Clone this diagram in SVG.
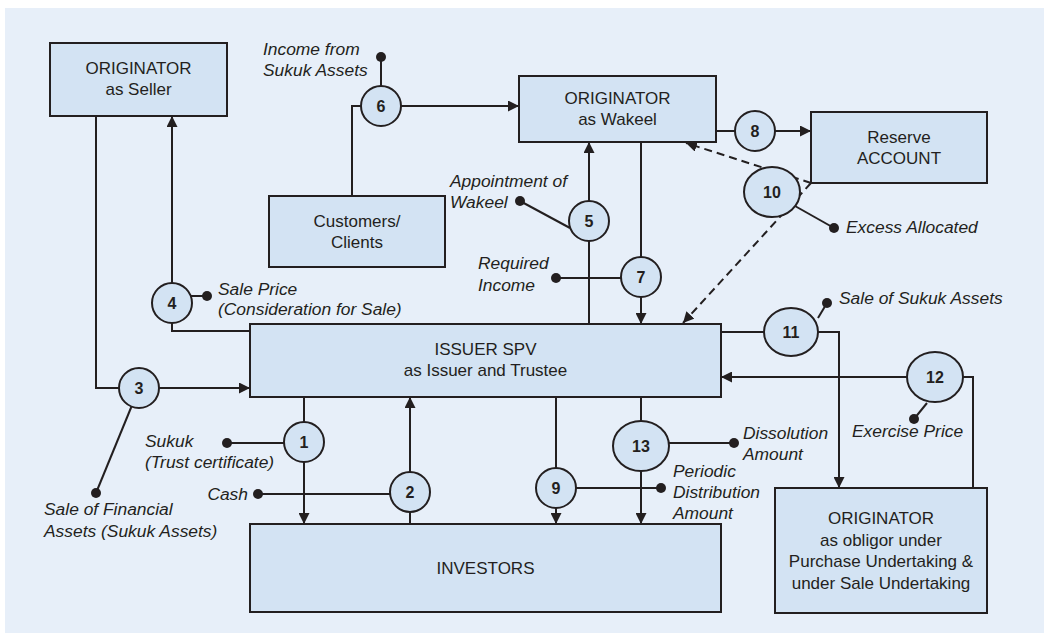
<svg xmlns="http://www.w3.org/2000/svg" width="1044" height="633" viewBox="0 0 1044 633">
  <style>
    .box { fill: #d3e3f3; stroke: #231f20; stroke-width: 2; }
    .step { fill: #d3e3f3; stroke: #231f20; stroke-width: 2; }
    .line { fill: none; stroke: #231f20; stroke-width: 2; }
    .dash { fill: none; stroke: #231f20; stroke-width: 2; stroke-dasharray: 8 5; }
    .dot { fill: #231f20; }
    .t { font-family: "Liberation Sans", Arial, sans-serif; font-size: 17px; fill: #231f20; text-anchor: middle; }
    .lbl { font-family: "Liberation Sans", Arial, sans-serif; font-size: 17.4px; font-style: italic; fill: #231f20; }
    .num { font-family: "Liberation Sans", Arial, sans-serif; font-size: 16px; font-weight: bold; fill: #231f20; text-anchor: middle; }
  </style>
  <defs>
    <marker id="arrow" viewBox="0 0 10 10" refX="10" refY="5" markerWidth="11" markerHeight="11" markerUnits="userSpaceOnUse" orient="auto">
      <path d="M0,0 L10,5 L0,10 z" fill="#231f20"/>
    </marker>
  </defs>

  <rect x="5" y="8" width="1039" height="625" fill="#e7eff9"/>

  <!-- connectors -->
  <g id="connectors">
    <!-- 3: sale of assets, seller to SPV -->
    <path class="line" d="M96,116 V388 H119"/>
    <path class="line" d="M159,388 H250" marker-end="url(#arrow)"/>
    <line class="line" x1="131.5" y1="406.5" x2="96" y2="493"/>
    <!-- 4: sale price, SPV to seller -->
    <path class="line" d="M250,331 H172 V323"/>
    <path class="line" d="M172,283 V116" marker-end="url(#arrow)"/>
    <line class="line" x1="190.7" y1="296" x2="207" y2="296"/>
    <!-- 6: income from customers to Wakeel -->
    <path class="line" d="M352,196 V106 H361"/>
    <path class="line" d="M401,106 H519" marker-end="url(#arrow)"/>
    <line class="line" x1="381" y1="57" x2="381" y2="86"/>
    <!-- 5: appointment of Wakeel -->
    <path class="line" d="M589,324 V241"/>
    <path class="line" d="M589,201 V142" marker-end="url(#arrow)"/>
    <line class="line" x1="520" y1="201" x2="570" y2="228"/>
    <!-- 7: required income -->
    <path class="line" d="M641,142 V257"/>
    <path class="line" d="M641,297 V324" marker-end="url(#arrow)"/>
    <line class="line" x1="556" y1="278" x2="621" y2="278"/>
    <!-- 8: Wakeel to reserve -->
    <path class="line" d="M716,131 H735"/>
    <path class="line" d="M775,131 H811" marker-end="url(#arrow)"/>
    <!-- 10: excess allocated (dashed) -->
    <line class="dash" x1="811" y1="183" x2="686" y2="143" marker-end="url(#arrow)"/>
    <line class="dash" x1="811" y1="183" x2="683" y2="323" marker-end="url(#arrow)"/>
    <line class="line" x1="795" y1="206" x2="834" y2="228"/>
    <!-- 11: sale of sukuk assets -->
    <path class="line" d="M721,332 H764"/>
    <path class="line" d="M818,332 H839 V488" marker-end="url(#arrow)"/>
    <line class="line" x1="818" y1="318" x2="827" y2="303"/>
    <!-- 12: exercise price -->
    <path class="line" d="M973,488 V377 H963"/>
    <path class="line" d="M907,377 H721" marker-end="url(#arrow)"/>
    <line class="line" x1="927" y1="403" x2="914" y2="419"/>
    <!-- 1: sukuk to investors -->
    <path class="line" d="M304,397 V422"/>
    <path class="line" d="M304,462 V524" marker-end="url(#arrow)"/>
    <line class="line" x1="227" y1="443" x2="284" y2="443"/>
    <!-- 2: cash to SPV -->
    <line class="line" x1="258" y1="494" x2="390" y2="494"/>
    <path class="line" d="M410,524 V512"/>
    <path class="line" d="M410,472 V397" marker-end="url(#arrow)"/>
    <!-- 9: periodic distribution -->
    <path class="line" d="M556,397 V468"/>
    <path class="line" d="M556,508 V524" marker-end="url(#arrow)"/>
    <line class="line" x1="576" y1="488" x2="661" y2="488"/>
    <!-- 13: dissolution amount -->
    <path class="line" d="M641,397 V421"/>
    <path class="line" d="M641,471 V524" marker-end="url(#arrow)"/>
    <line class="line" x1="669" y1="443" x2="734" y2="443"/>
  </g>

  <!-- label dots -->
  <g id="dots">
    <circle class="dot" cx="381" cy="57" r="5"/>
    <circle class="dot" cx="520" cy="201" r="5"/>
    <circle class="dot" cx="556" cy="278" r="5"/>
    <circle class="dot" cx="207" cy="296" r="5"/>
    <circle class="dot" cx="96" cy="493" r="5"/>
    <circle class="dot" cx="227" cy="443" r="5"/>
    <circle class="dot" cx="258" cy="494" r="5"/>
    <circle class="dot" cx="661" cy="488" r="5"/>
    <circle class="dot" cx="734" cy="443" r="5"/>
    <circle class="dot" cx="827" cy="303" r="5"/>
    <circle class="dot" cx="914" cy="419" r="5"/>
    <circle class="dot" cx="834" cy="228" r="5"/>
  </g>

  <!-- parties -->
  <g id="seller">
    <rect class="box" x="50" y="43" width="177" height="73"/>
    <text class="t" x="138.5" y="74">ORIGINATOR</text>
    <text class="t" x="138.5" y="95">as Seller</text>
  </g>
  <g id="wakeel">
    <rect class="box" x="519" y="76" width="197" height="66"/>
    <text class="t" x="617.5" y="104">ORIGINATOR</text>
    <text class="t" x="617.5" y="125">as Wakeel</text>
  </g>
  <g id="customers">
    <rect class="box" x="269" y="196" width="176" height="71"/>
    <text class="t" x="357" y="227">Customers/</text>
    <text class="t" x="357" y="248">Clients</text>
  </g>
  <g id="reserve">
    <rect class="box" x="811" y="112" width="176" height="71"/>
    <text class="t" x="899" y="143">Reserve</text>
    <text class="t" x="899" y="164">ACCOUNT</text>
  </g>
  <g id="spv">
    <rect class="box" x="250" y="324" width="471" height="73"/>
    <text class="t" x="485.5" y="355">ISSUER SPV</text>
    <text class="t" x="485.5" y="376">as Issuer and Trustee</text>
  </g>
  <g id="investors">
    <rect class="box" x="250" y="524" width="471" height="88"/>
    <text class="t" x="485.5" y="574">INVESTORS</text>
  </g>
  <g id="obligor">
    <rect class="box" x="775" y="488" width="212" height="125"/>
    <text class="t" x="881" y="524">ORIGINATOR</text>
    <text class="t" x="881" y="546">as obligor under</text>
    <text class="t" x="881" y="567">Purchase Undertaking &amp;</text>
    <text class="t" x="881" y="589">under Sale Undertaking</text>
  </g>

  <!-- numbered steps -->
  <g id="step1"><circle class="step" cx="304" cy="442" r="20"/><text class="num" x="304" y="448">1</text></g>
  <g id="step2"><circle class="step" cx="410" cy="492" r="20"/><text class="num" x="410" y="498">2</text></g>
  <g id="step3"><circle class="step" cx="139" cy="388" r="20"/><text class="num" x="139" y="394">3</text></g>
  <g id="step4"><circle class="step" cx="172" cy="303" r="20"/><text class="num" x="172" y="309">4</text></g>
  <g id="step5"><circle class="step" cx="589" cy="221" r="20"/><text class="num" x="589" y="227">5</text></g>
  <g id="step6"><circle class="step" cx="381" cy="106" r="20"/><text class="num" x="381" y="112">6</text></g>
  <g id="step7"><circle class="step" cx="641" cy="277" r="20"/><text class="num" x="641" y="283">7</text></g>
  <g id="step8"><circle class="step" cx="755" cy="131" r="20"/><text class="num" x="755" y="137">8</text></g>
  <g id="step9"><circle class="step" cx="556" cy="488" r="20"/><text class="num" x="556" y="494">9</text></g>
  <g id="step10"><ellipse class="step" cx="772" cy="192" rx="28" ry="25"/><text class="num" x="772" y="198">10</text></g>
  <g id="step11"><ellipse class="step" cx="791" cy="332" rx="27" ry="24"/><text class="num" x="791" y="338">11</text></g>
  <g id="step12"><ellipse class="step" cx="935" cy="377" rx="28" ry="25"/><text class="num" x="935" y="383">12</text></g>
  <g id="step13"><ellipse class="step" cx="641" cy="446" rx="28" ry="25"/><text class="num" x="641" y="452">13</text></g>

  <!-- flow labels -->
  <g id="labels">
    <text class="lbl" x="263" y="55">Income from</text>
    <text class="lbl" x="263" y="76">Sukuk Assets</text>
    <text class="lbl" x="450" y="187">Appointment of</text>
    <text class="lbl" x="450" y="208">Wakeel</text>
    <text class="lbl" x="478" y="269">Required</text>
    <text class="lbl" x="478" y="291">Income</text>
    <text class="lbl" x="218" y="295">Sale Price</text>
    <text class="lbl" x="218" y="315">(Consideration for Sale)</text>
    <text class="lbl" x="145" y="447">Sukuk</text>
    <text class="lbl" x="145" y="468">(Trust certificate)</text>
    <text class="lbl" x="248" y="500" text-anchor="end">Cash</text>
    <text class="lbl" x="44" y="515">Sale of Financial</text>
    <text class="lbl" x="44" y="537">Assets (Sukuk Assets)</text>
    <text class="lbl" x="673" y="477">Periodic</text>
    <text class="lbl" x="673" y="498">Distribution</text>
    <text class="lbl" x="673" y="519">Amount</text>
    <text class="lbl" x="743" y="439">Dissolution</text>
    <text class="lbl" x="743" y="460">Amount</text>
    <text class="lbl" x="852" y="437">Exercise Price</text>
    <text class="lbl" x="839" y="304">Sale of Sukuk Assets</text>
    <text class="lbl" x="846" y="233">Excess Allocated</text>
  </g>
</svg>
